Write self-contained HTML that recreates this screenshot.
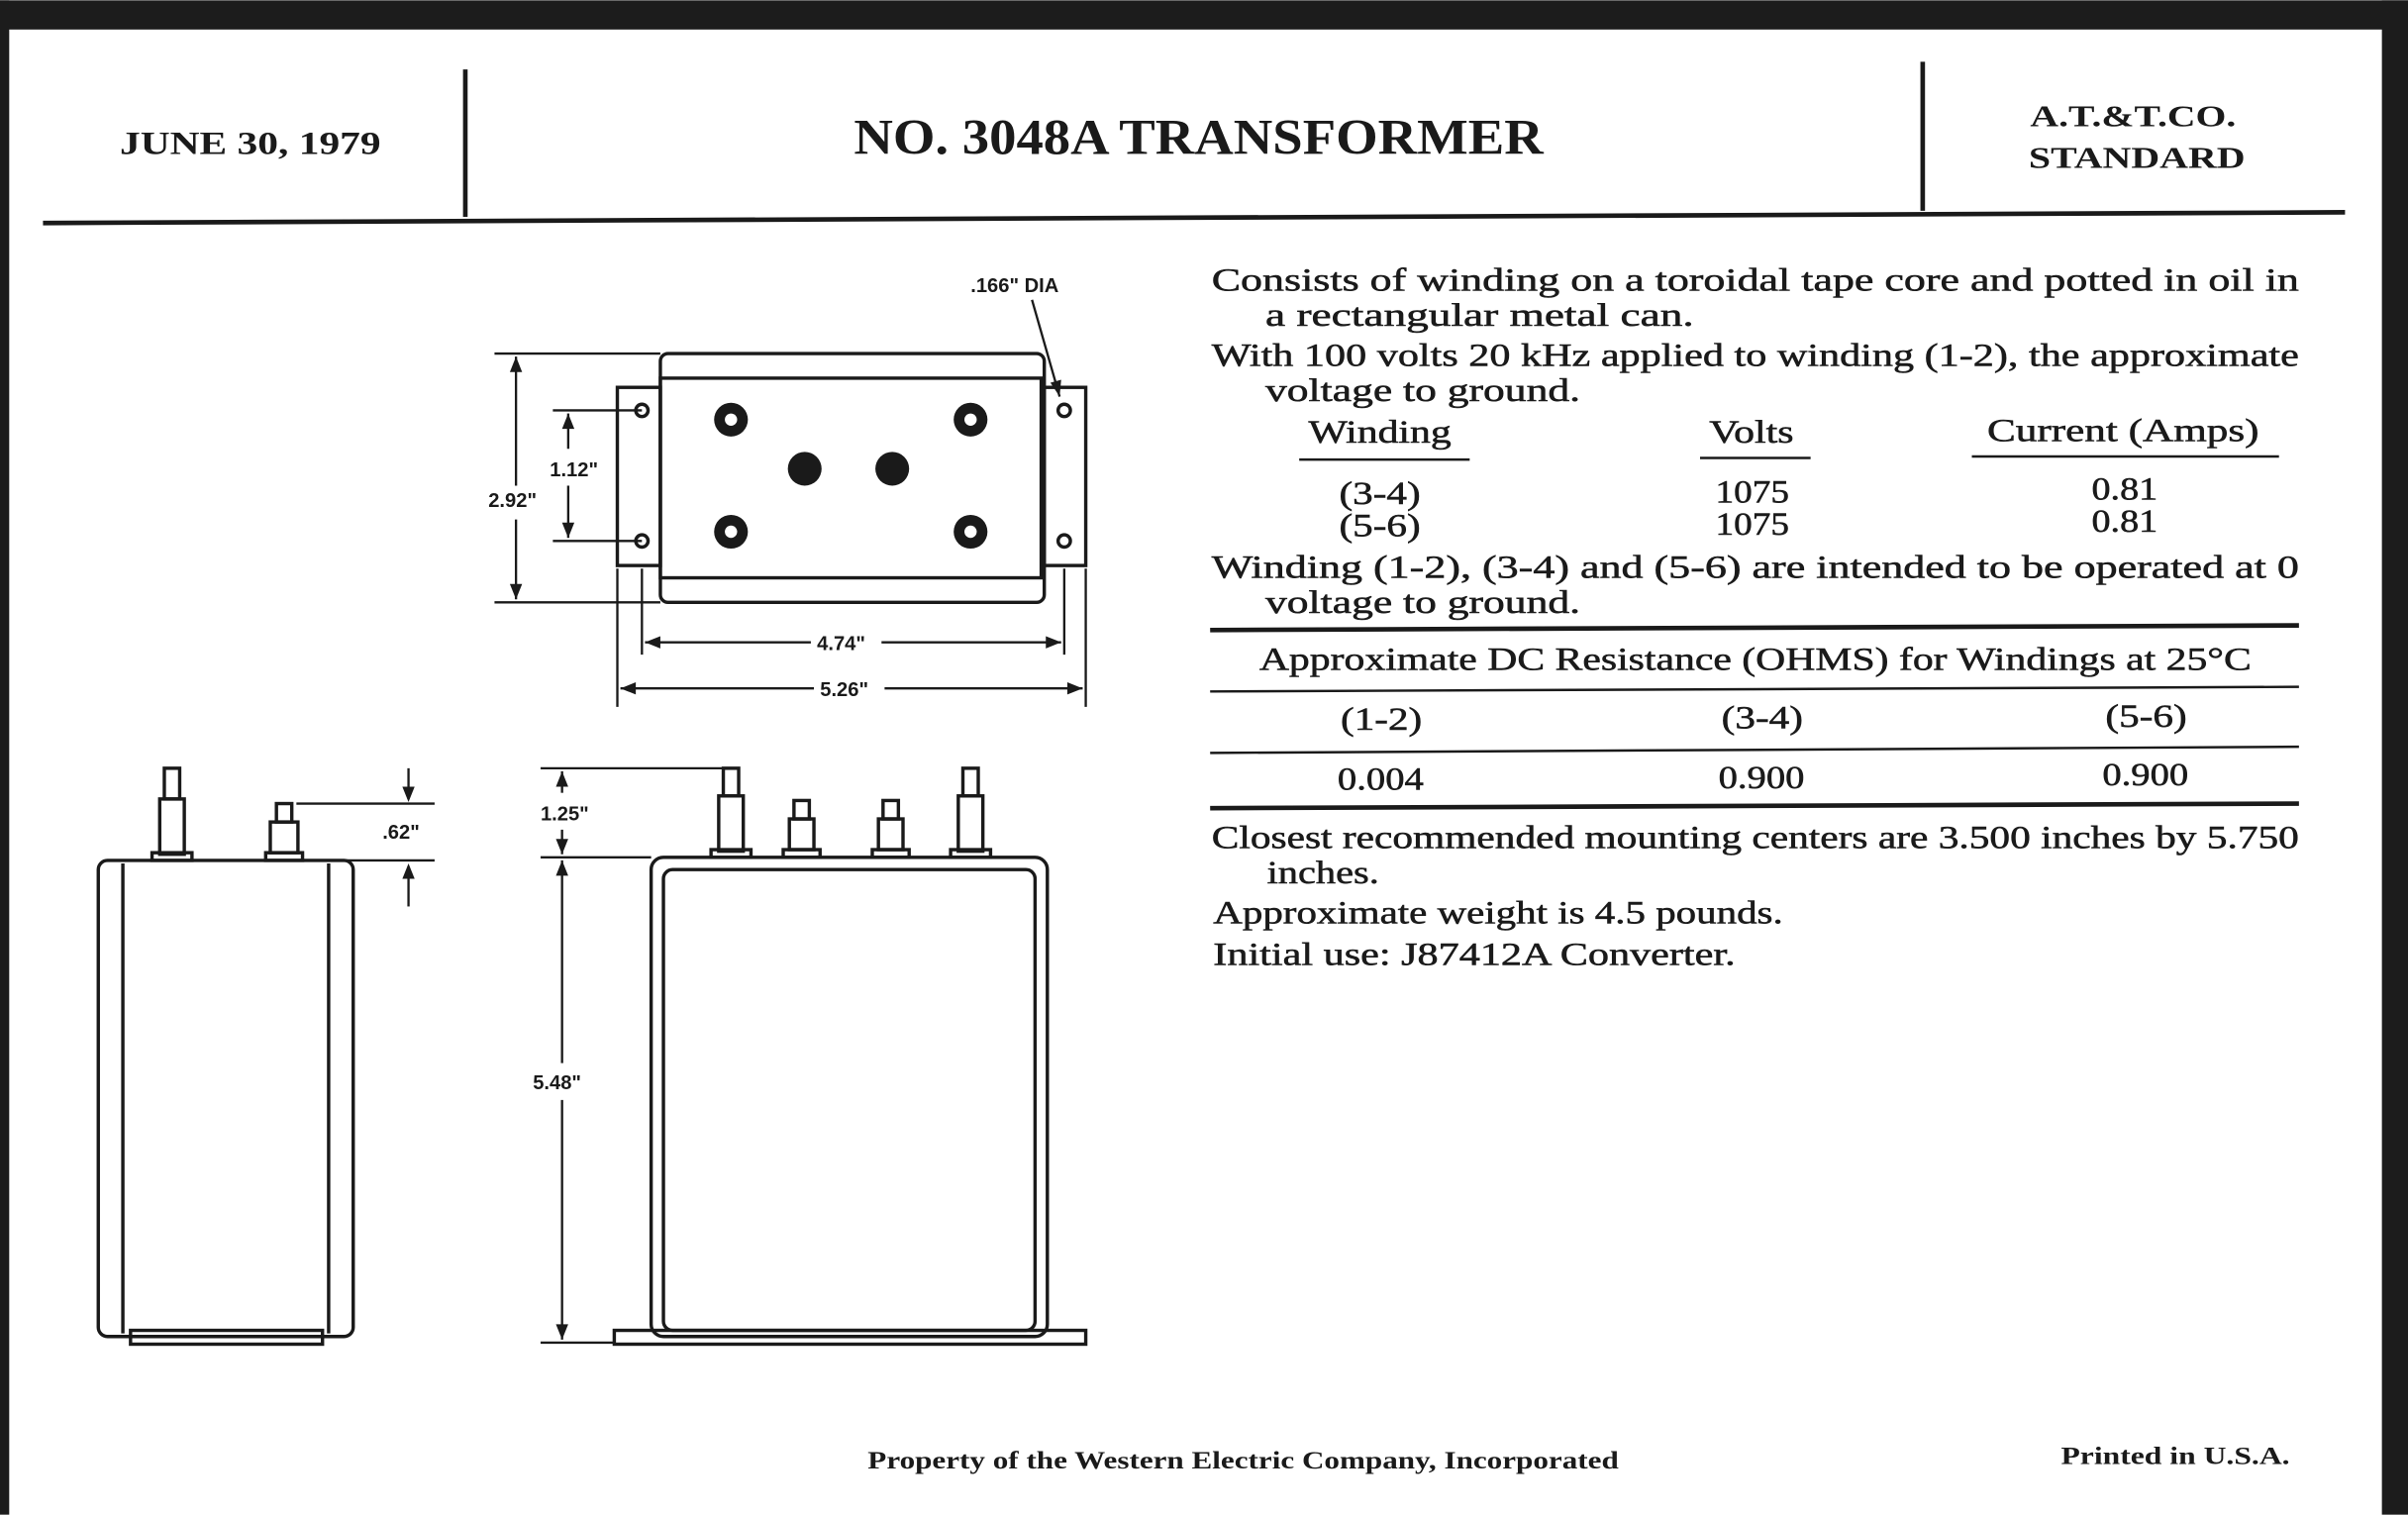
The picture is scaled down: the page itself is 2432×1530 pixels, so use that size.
<!DOCTYPE html>
<html><head><meta charset="utf-8"><style>
html,body{margin:0;padding:0;background:#fff}
svg{display:block}
text{font-family:"Liberation Serif",serif;fill:#1a1a1a}
.b{font-weight:bold}
.s{font-family:"Liberation Sans",sans-serif;font-weight:bold;font-size:13px}
.t{font-size:21px;stroke:#1a1a1a;stroke-width:0.35}
</style></head><body>
<svg width="2432" height="1530" viewBox="0 0 1568 986" xmlns="http://www.w3.org/2000/svg">
<rect x="0" y="0" width="1568" height="986" fill="#fff"/>
<rect x="0" y="0" width="1568" height="19" fill="#1c1c1c"/>
<rect x="0" y="0" width="6" height="986" fill="#1c1c1c"/>
<rect x="1551" y="0" width="17" height="986" fill="#1c1c1c"/>
<g stroke="#1a1a1a" fill="none">
<line x1="28" y1="145" x2="1527" y2="138" stroke-width="3"/>
<line x1="303" y1="45" x2="303" y2="141" stroke-width="3"/>
<line x1="1252" y1="40" x2="1252" y2="137" stroke-width="3"/>
</g>
<g lengthAdjust="spacingAndGlyphs">
<text x="78" y="100" class="b" font-size="21" textLength="170" lengthAdjust="spacingAndGlyphs">JUNE 30, 1979</text>
<text x="556" y="100" class="b" font-size="33" textLength="449" lengthAdjust="spacingAndGlyphs">NO. 3048A TRANSFORMER</text>
<text x="1322" y="82" class="b" font-size="20" textLength="134" lengthAdjust="spacingAndGlyphs">A.T.&amp;T.CO.</text>
<text x="1321" y="109" class="b" font-size="20" textLength="141" lengthAdjust="spacingAndGlyphs">STANDARD</text>
</g>

<g stroke="#1a1a1a" fill="none" stroke-width="2.2">
<rect x="430" y="230" width="250" height="162" rx="5"/>
<rect x="430" y="246" width="248" height="130"/>
<rect x="402" y="252" width="28" height="116"/>
<rect x="680" y="252" width="27" height="116"/>
<circle cx="418" cy="267" r="4"/><circle cx="418" cy="352" r="4"/>
<circle cx="693" cy="267" r="4"/><circle cx="693" cy="352" r="4"/>
<line x1="672" y1="195" x2="690" y2="258" stroke-width="1.5"/>
<line x1="322" y1="230" x2="430" y2="230" stroke-width="1.5"/>
<line x1="322" y1="392" x2="430" y2="392" stroke-width="1.5"/>
<line x1="336" y1="232" x2="336" y2="316" stroke-width="1.5"/>
<line x1="336" y1="338" x2="336" y2="390" stroke-width="1.5"/>
<line x1="360" y1="267" x2="418" y2="267" stroke-width="1.5"/>
<line x1="360" y1="352" x2="418" y2="352" stroke-width="1.5"/>
<line x1="370" y1="269" x2="370" y2="292" stroke-width="1.5"/>
<line x1="370" y1="316" x2="370" y2="350" stroke-width="1.5"/>
<line x1="418" y1="370" x2="418" y2="426" stroke-width="1.5"/>
<line x1="693" y1="370" x2="693" y2="426" stroke-width="1.5"/>
<line x1="402" y1="370" x2="402" y2="460" stroke-width="1.5"/>
<line x1="707" y1="370" x2="707" y2="460" stroke-width="1.5"/>
<line x1="420" y1="418" x2="528" y2="418" stroke-width="1.5"/>
<line x1="574" y1="418" x2="691" y2="418" stroke-width="1.5"/>
<line x1="404" y1="448" x2="530" y2="448" stroke-width="1.5"/>
<line x1="576" y1="448" x2="705" y2="448" stroke-width="1.5"/>
<rect x="64" y="560" width="166" height="310" rx="6"/>
<line x1="80" y1="562" x2="80" y2="868"/>
<line x1="214" y1="562" x2="214" y2="868"/>
<rect x="85" y="866" width="125" height="9"/>
<rect x="107" y="500" width="10" height="20"/>
<rect x="104" y="520" width="16" height="36"/>
<rect x="99" y="555" width="26" height="5"/>
<rect x="180" y="523" width="10" height="12"/>
<rect x="176" y="535" width="18" height="20"/>
<rect x="173" y="555" width="24" height="5"/>
<line x1="193" y1="523" x2="283" y2="523" stroke-width="1.5"/>
<line x1="193" y1="560" x2="283" y2="560" stroke-width="1.5"/>
<line x1="266" y1="500" x2="266" y2="520" stroke-width="1.5"/>
<line x1="266" y1="564" x2="266" y2="590" stroke-width="1.5"/>
<rect x="424" y="558" width="258" height="312" rx="8"/>
<rect x="432" y="566" width="242" height="300" rx="6"/>
<rect x="400" y="866" width="307" height="9"/>
<rect x="471" y="500" width="10" height="18"/><rect x="468" y="518" width="16" height="36"/><rect x="463" y="553" width="26" height="5"/>
<rect x="627" y="500" width="10" height="18"/><rect x="624" y="518" width="16" height="36"/><rect x="619" y="553" width="26" height="5"/>
<rect x="517" y="521" width="10" height="12"/><rect x="514" y="533" width="16" height="20"/><rect x="510" y="553" width="24" height="5"/>
<rect x="575" y="521" width="10" height="12"/><rect x="572" y="533" width="16" height="20"/><rect x="568" y="553" width="24" height="5"/>
<line x1="352" y1="500" x2="470" y2="500" stroke-width="1.5"/>
<line x1="352" y1="558" x2="424" y2="558" stroke-width="1.5"/>
<line x1="352" y1="874" x2="400" y2="874" stroke-width="1.5"/>
<line x1="366" y1="502" x2="366" y2="516" stroke-width="1.5"/>
<line x1="366" y1="540" x2="366" y2="556" stroke-width="1.5"/>
<line x1="366" y1="560" x2="366" y2="692" stroke-width="1.5"/>
<line x1="366" y1="716" x2="366" y2="872" stroke-width="1.5"/>
</g>
<g fill="#1a1a1a">
<circle cx="476" cy="273" r="11"/><circle cx="632" cy="273" r="11"/>
<circle cx="524" cy="305" r="11"/><circle cx="581" cy="305" r="11"/>
<circle cx="476" cy="346" r="11"/><circle cx="632" cy="346" r="11"/>
<path d="M336 232 l-4 10 h8z"/><path d="M336 390 l-4 -10 h8z"/>
<path d="M370 269 l-4 10 h8z"/><path d="M370 350 l-4 -10 h8z"/>
<path d="M420 418 l10 -4 v8z"/><path d="M691 418 l-10 -4 v8z"/>
<path d="M404 448 l10 -4 v8z"/><path d="M705 448 l-10 -4 v8z"/>
<path d="M266 522 l-4 -10 h8z"/><path d="M266 562 l-4 10 h8z"/>
<path d="M366 502 l-4 10 h8z"/><path d="M366 556 l-4 -10 h8z"/>
<path d="M366 560 l-4 10 h8z"/><path d="M366 872 l-4 -10 h8z"/>
<path d="M690 258 l-6 -9 l7 -2z"/>
</g>
<g fill="#fff"><circle cx="476" cy="273" r="4"/><circle cx="632" cy="273" r="4"/><circle cx="476" cy="346" r="4"/><circle cx="632" cy="346" r="4"/></g>
<text x="632" y="190" class="s">.166" DIA</text>
<text x="318" y="330" class="s">2.92"</text>
<text x="358" y="310" class="s">1.12"</text>
<text x="532" y="423" class="s">4.74"</text>
<text x="534" y="453" class="s">5.26"</text>
<text x="249" y="546" class="s">.62"</text>
<text x="352" y="534" class="s">1.25"</text>
<text x="347" y="709" class="s">5.48"</text>

<text x="789" y="189" class="t" textLength="708" lengthAdjust="spacingAndGlyphs">Consists of winding on a toroidal tape core and potted in oil in</text>
<text x="824" y="212" class="t" textLength="279" lengthAdjust="spacingAndGlyphs">a rectangular metal can.</text>
<text x="789" y="238" class="t" textLength="708" lengthAdjust="spacingAndGlyphs">With 100 volts 20 kHz applied to winding (1-2), the approximate</text>
<text x="824" y="261" class="t" textLength="205" lengthAdjust="spacingAndGlyphs">voltage to ground.</text>
<text x="852" y="288" class="t" textLength="93" lengthAdjust="spacingAndGlyphs">Winding</text>
<text x="1113" y="288" class="t" textLength="55" lengthAdjust="spacingAndGlyphs">Volts</text>
<text x="1294" y="287" class="t" textLength="177" lengthAdjust="spacingAndGlyphs">Current (Amps)</text>
<g stroke="#1a1a1a" stroke-width="1.6"><line x1="846" y1="299" x2="957" y2="299"/><line x1="1107" y1="298" x2="1179" y2="298"/><line x1="1284" y1="297" x2="1484" y2="297"/></g>
<text x="872" y="328" class="t" textLength="53" lengthAdjust="spacingAndGlyphs">(3-4)</text>
<text x="872" y="349" class="t" textLength="53" lengthAdjust="spacingAndGlyphs">(5-6)</text>
<text x="1117" y="327" class="t" textLength="48" lengthAdjust="spacingAndGlyphs">1075</text>
<text x="1117" y="348" class="t" textLength="48" lengthAdjust="spacingAndGlyphs">1075</text>
<text x="1362" y="325" class="t" textLength="43" lengthAdjust="spacingAndGlyphs">0.81</text>
<text x="1362" y="346" class="t" textLength="43" lengthAdjust="spacingAndGlyphs">0.81</text>
<text x="789" y="376" class="t" textLength="708" lengthAdjust="spacingAndGlyphs">Winding (1-2), (3-4) and (5-6) are intended to be operated at 0</text>
<text x="824" y="399" class="t" textLength="205" lengthAdjust="spacingAndGlyphs">voltage to ground.</text>
<g stroke="#1a1a1a"><line x1="788" y1="410" x2="1497" y2="407" stroke-width="3"/><line x1="788" y1="450" x2="1497" y2="447" stroke-width="1.6"/><line x1="788" y1="490" x2="1497" y2="486" stroke-width="1.6"/><line x1="788" y1="526" x2="1497" y2="523" stroke-width="3"/></g>
<text x="820" y="436" class="t" textLength="646" lengthAdjust="spacingAndGlyphs">Approximate DC Resistance (OHMS) for Windings at 25°C</text>
<text x="873" y="475" class="t" textLength="53" lengthAdjust="spacingAndGlyphs">(1-2)</text>
<text x="1121" y="474" class="t" textLength="53" lengthAdjust="spacingAndGlyphs">(3-4)</text>
<text x="1371" y="473" class="t" textLength="53" lengthAdjust="spacingAndGlyphs">(5-6)</text>
<text x="871" y="514" class="t" textLength="56" lengthAdjust="spacingAndGlyphs">0.004</text>
<text x="1119" y="513" class="t" textLength="56" lengthAdjust="spacingAndGlyphs">0.900</text>
<text x="1369" y="511" class="t" textLength="56" lengthAdjust="spacingAndGlyphs">0.900</text>
<text x="789" y="552" class="t" textLength="708" lengthAdjust="spacingAndGlyphs">Closest recommended mounting centers are 3.500 inches by 5.750</text>
<text x="825" y="575" class="t" textLength="73" lengthAdjust="spacingAndGlyphs">inches.</text>
<text x="790" y="601" class="t" textLength="371" lengthAdjust="spacingAndGlyphs">Approximate weight is 4.5 pounds.</text>
<text x="790" y="628" class="t" textLength="340" lengthAdjust="spacingAndGlyphs">Initial use: J87412A Converter.</text>
<text x="565" y="956" class="b" font-size="16" textLength="489" lengthAdjust="spacingAndGlyphs">Property of the Western Electric Company, Incorporated</text>
<text x="1342" y="953" class="b" font-size="16" textLength="149" lengthAdjust="spacingAndGlyphs">Printed in U.S.A.</text>
</svg>
</body></html>
